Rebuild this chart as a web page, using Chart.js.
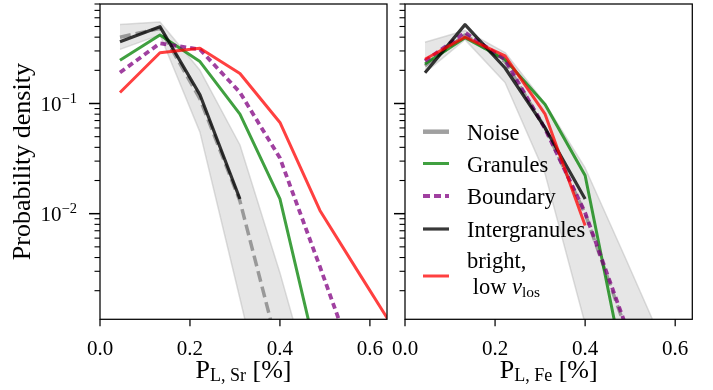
<!DOCTYPE html>
<html>
<head>
<meta charset="utf-8">
<script src="https://cdn.jsdelivr.net/npm/chart.js@4.4.0/dist/chart.umd.min.js"></script>
<style>
  body { margin: 0; background: #fff; }
  #wrap { position: relative; width: 713px; height: 390px; background: #fff; }
  canvas { position: absolute; top: 0; }
  #left { left: 0; }
  #right { left: 390px; }
</style>
</head>
<body>
<div id="wrap">
  <canvas id="left" width="390" height="390"></canvas>
  <canvas id="right" width="323" height="390"></canvas>
</div>
<script>
// histogram bin centres, 9 bins over 0..0.8 %
const binCenters = [0.0444, 0.1333, 0.2222, 0.3111, 0.4, 0.4889, 0.5778, 0.6667];
const xTicks = [0, 0.2, 0.4, 0.6];

// Sr panel
const noiseSr = [0.40, 0.48, 0.11, 0.013, 0.00051];
const noiseSrLo = [0.31, 0.42, 0.055, 0.0017, 0.00005, 0.000005];
const noiseSrHi = [0.52, 0.55, 0.20, 0.042, 0.0029, 0.00015];
const granSr = [0.247, 0.419, 0.24, 0.080, 0.0136, 0.00039];
const boundSr = [0.191, 0.352, 0.31, 0.126, 0.032, 0.0033, 0.00032];
const interSr = [0.364, 0.498, 0.12, 0.0136];
const brightSr = [0.126, 0.289, 0.317, 0.187, 0.0673, 0.0107, 0.0028, 0.00074];

// Fe panel
const noiseFe = [0.22, 0.42, 0.24, 0.06, 0.010, 0.00093];
const noiseFeLo = [0.19, 0.38, 0.155, 0.023, 0.001, 0.0001, 0.00001];
const noiseFeHi = [0.36, 0.46, 0.29, 0.10, 0.026, 0.004, 0.0006];
const granFe = [0.228, 0.395, 0.251, 0.098, 0.0222, 0.00035];
const boundFe = [0.243, 0.44, 0.25, 0.059, 0.0102, 0.001, 0.00012];
const interFe = [0.19, 0.52, 0.21, 0.06, 0.0136];
const brightFe = [0.252, 0.40, 0.27, 0.080, 0.0078];

const SERIF = '"Liberation Serif", "DejaVu Serif", serif';
const xMax = 0.638;
const yMin = 0.0011;
const yMax = 0.8;

const colors = {
  band: "rgba(200,200,200,0.45)",
  bandEdge: "rgba(180,180,180,0.45)",
  noise: "rgba(128,128,128,0.75)",
  gran: "rgba(0,128,0,0.75)",
  bound: "rgba(128,0,128,0.75)",
  inter: "rgba(0,0,0,0.78)",
  bright: "rgba(255,0,0,0.75)",
};

const pts = (values) => values.map((v, i) => ({ x: binCenters[i], y: v }));

function buildSets(s) {
  return [
    { label: "hi", data: pts(s.hi), borderColor: colors.bandEdge, borderWidth: 1.5, backgroundColor: colors.band, fill: 1, order: 9 },
    { label: "lo", data: pts(s.lo), borderColor: colors.bandEdge, borderWidth: 1.5, fill: false, order: 8 },
    { label: "Noise", data: pts(s.noise), borderColor: colors.noise, borderWidth: 3.5, borderDash: [11, 5], order: 5 },
    { label: "Granules", data: pts(s.gran), borderColor: colors.gran, borderWidth: 3, order: 4 },
    { label: "Boundary", data: pts(s.bound), borderColor: colors.bound, borderWidth: 3.8, borderDash: [6, 4], order: 3 },
    { label: "Intergranules", data: pts(s.inter), borderColor: colors.inter, borderWidth: 3.2, order: 2 },
    { label: "bright, low v_los", data: pts(s.bright), borderColor: colors.bright, borderWidth: 3, order: 1 },
  ];
}

function drawSubLabel(ctx, parts, cx, baseline) {
  // parts: [text, size, dy, style]
  const widths = parts.map(([t, size, , style]) => {
    ctx.font = `${style || ""} ${size}px ${SERIF}`;
    return ctx.measureText(t).width;
  });
  let x = cx - widths.reduce((a, b) => a + b, 0) / 2;
  ctx.textAlign = "left";
  parts.forEach(([t, size, dy, style], i) => {
    ctx.font = `${style || ""} ${size}px ${SERIF}`;
    ctx.fillText(t, x, baseline + dy);
    x += widths[i];
  });
}

const axesDecor = {
  id: "axesDecor",
  afterDraw(chart, args, opts) {
    const { ctx, chartArea: a, scales: { x, y } } = chart;
    ctx.save();
    ctx.fillStyle = "#000";
    ctx.strokeStyle = "#000";
    ctx.lineWidth = 1.25;
    ctx.strokeRect(a.left, a.top, a.right - a.left, a.bottom - a.top);

    // x ticks and labels
    ctx.textBaseline = "alphabetic";
    xTicks.forEach((t) => {
      const px = x.getPixelForValue(t);
      ctx.beginPath();
      ctx.moveTo(px, a.bottom);
      ctx.lineTo(px, a.bottom + 7);
      ctx.stroke();
      ctx.font = `21px ${SERIF}`;
      ctx.textAlign = "center";
      ctx.fillText(t.toFixed(1), px, 354.5);
    });

    // log y ticks, major at decades
    for (let e = -3; e <= 0; e++) {
      for (let m = 1; m <= 9; m++) {
        const v = m * Math.pow(10, e);
        if (v < yMin || v > yMax) continue;
        const py = y.getPixelForValue(v);
        const major = m === 1;
        ctx.lineWidth = major ? 1.5 : 1.1;
        ctx.beginPath();
        ctx.moveTo(a.left, py);
        ctx.lineTo(a.left - (major ? 11 : 5.5), py);
        ctx.stroke();
        if (major && opts.yLabels) {
          const sup = "\u2212" + String(-e);
          ctx.font = `14.5px ${SERIF}`;
          const wSup = ctx.measureText(sup).width;
          ctx.textAlign = "right";
          const right = a.left - 23;
          ctx.fillText(sup, right, py - 1);
          ctx.font = `21px ${SERIF}`;
          ctx.fillText("10", right - wSup, py + 7);
        }
      }
    }

    // axis titles
    ctx.textAlign = "left";
    drawSubLabel(ctx, [["P", 26, 0], [opts.sub, 18, 3.4], [" [%]", 26, 0]], (a.left + a.right) / 2, 378);
    if (opts.yTitle) {
      ctx.save();
      ctx.translate(30, (a.top + a.bottom) / 2);
      ctx.rotate(-Math.PI / 2);
      ctx.font = `26px ${SERIF}`;
      ctx.textAlign = "center";
      ctx.fillText("Probability density", 0, 0);
      ctx.restore();
    }

    if (opts.legend) drawLegend(ctx);
    ctx.restore();
  },
};

function drawLegend(ctx) {
  const x0 = 33, x1 = 59, tx = 77;
  const rows = [
    { y: 131.7, color: colors.noise, width: 4.5, dash: [], text: "Noise", base: 139.5 },
    { y: 163.5, color: colors.gran, width: 3, dash: [], text: "Granules", base: 171.5 },
    { y: 196, color: colors.bound, width: 3.8, dash: [7, 4], text: "Boundary", base: 204 },
    { y: 229, color: colors.inter, width: 3.2, dash: [], text: "Intergranules", base: 236.5 },
    { y: 276, color: colors.bright, width: 3, dash: [], text: "bright,", base: 268 },
  ];
  rows.forEach((r) => {
    ctx.strokeStyle = r.color;
    ctx.lineWidth = r.width;
    ctx.setLineDash(r.dash);
    ctx.beginPath();
    ctx.moveTo(x0, r.y);
    ctx.lineTo(x1, r.y);
    ctx.stroke();
    ctx.setLineDash([]);
    ctx.fillStyle = "#000";
    ctx.font = `22.5px ${SERIF}`;
    ctx.textAlign = "left";
    ctx.fillText(r.text, tx, r.base);
  });
  // second line of the last label: " low v_los"
  let x = tx;
  ctx.font = `22.5px ${SERIF}`;
  ctx.fillText(" low ", x, 293.5);
  x += ctx.measureText(" low ").width;
  ctx.font = `italic 22.5px ${SERIF}`;
  ctx.fillText("v", x, 293.5);
  x += ctx.measureText("v").width;
  ctx.font = `15.5px ${SERIF}`;
  ctx.fillText("los", x, 297);
}

function makeChart(id, sets, decor, padRight, yWidth) {
  return new Chart(document.getElementById(id), {
    type: "line",
    data: { datasets: sets },
    options: {
      responsive: false,
      animation: false,
      devicePixelRatio: 1,
      layout: { padding: { top: 4, right: padRight, left: 0, bottom: 0 } },
      elements: {
        point: { radius: 0, hoverRadius: 0 },
        line: { tension: 0, borderJoinStyle: "round" },
      },
      plugins: { legend: { display: false }, tooltip: { enabled: false }, axesDecor: decor },
      scales: {
        x: {
          type: "linear", min: 0, max: xMax,
          grid: { display: false }, border: { display: false }, ticks: { display: false },
          afterFit: (s) => { s.height = 70.7; },
        },
        y: {
          type: "logarithmic", min: yMin, max: yMax,
          grid: { display: false }, border: { display: false }, ticks: { display: false },
          afterFit: (s) => { s.width = yWidth; },
        },
      },
    },
    plugins: [axesDecor],
  });
}

makeChart("left",
  buildSets({ hi: noiseSrHi, lo: noiseSrLo, noise: noiseSr, gran: granSr, bound: boundSr, inter: interSr, bright: brightSr }),
  { yLabels: true, yTitle: true, sub: "L, Sr", legend: false }, 3, 100);

makeChart("right",
  buildSets({ hi: noiseFeHi, lo: noiseFeLo, noise: noiseFe, gran: granFe, bound: boundFe, inter: interFe, bright: brightFe }),
  { yLabels: false, yTitle: false, sub: "L, Fe", legend: true }, 20.7, 15);
</script>
</body>
</html>
